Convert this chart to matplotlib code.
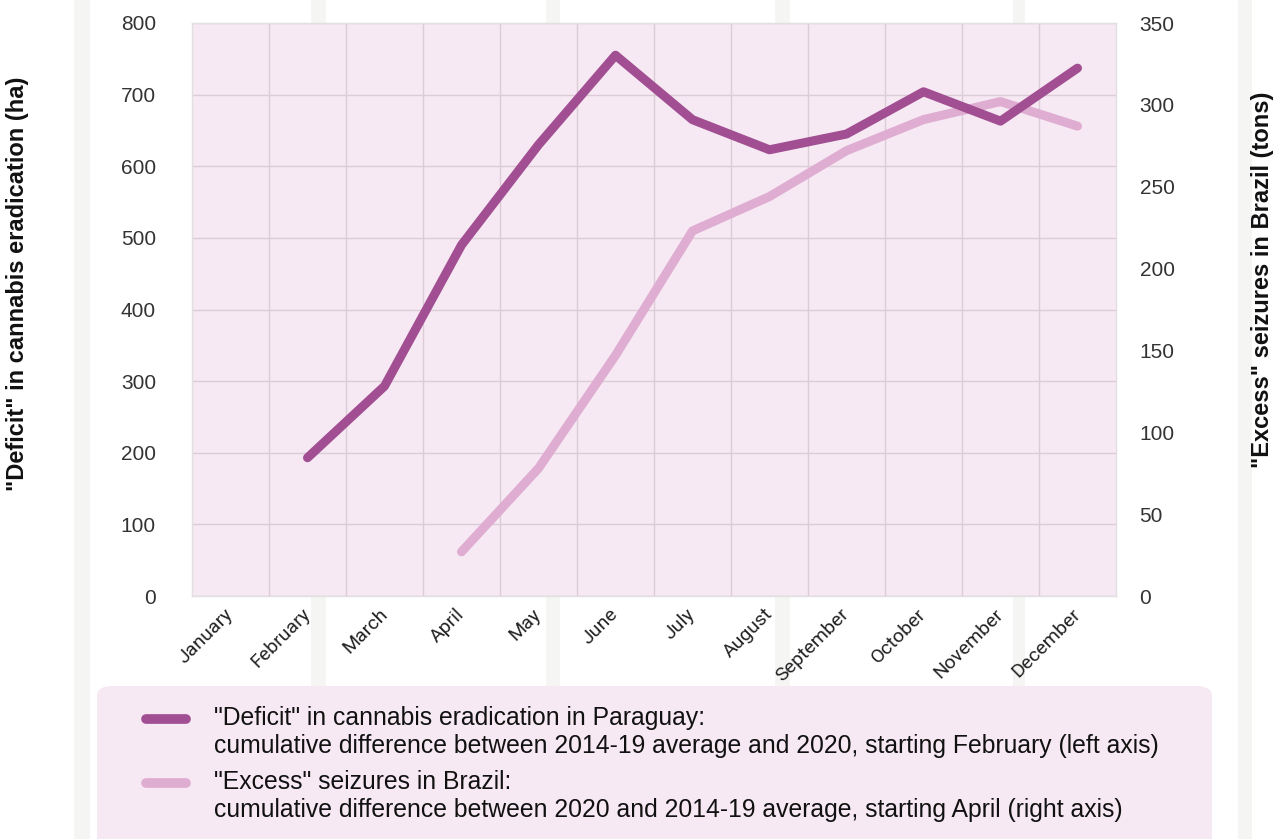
import matplotlib
matplotlib.use("Agg")
import matplotlib.pyplot as plt
from matplotlib.patches import FancyBboxPatch, Rectangle
from matplotlib.lines import Line2D

# Data
months = ["January", "February", "March", "April", "May", "June", "July",
          "August", "September", "October", "November", "December"]
deficit_paraguay = [None, 193, 293, 490, 630, 755, 665, 623, 645, 704, 663, 737]   # ha, left axis
excess_brazil = [None, None, None, 27, 78, 147, 223, 244, 272, 291, 302, 287]      # tons, right axis

left_ticks = [0, 100, 200, 300, 400, 500, 600, 700, 800]
right_ticks = [0, 50, 100, 150, 200, 250, 300, 350]

dark = "#a14f92"
light = "#dfadd2"
panel = "#f7e9f3"
grid_col = "#dcccd6"

plt.rcParams['font.family'] = ['Liberation Sans', 'DejaVu Sans']

fig = plt.figure(figsize=(12.82, 8.39), dpi=100)
fig.patch.set_facecolor("white")

# faint vertical texture stripes in the background
for x0, w in [(74, 16), (311, 15), (546, 14), (775, 15), (1013, 12), (1238, 14)]:
    fig.patches.append(Rectangle((x0 / 1282, 0), w / 1282, 1, transform=fig.transFigure,
                                 facecolor="#f5f6f4", edgecolor="none", zorder=-10))

pos = [192 / 1282, 1 - 596 / 839, (1116 - 192) / 1282, (596 - 23) / 839]

# background panel with grid
bg = fig.add_axes(pos, zorder=-5)
bg.set_facecolor(panel)
bg.set_xlim(-0.5, 11.5)
bg.set_ylim(0, 800)
bg.set_xticks([i + 0.5 for i in range(11)])
bg.set_yticks(left_ticks)
bg.grid(True, color=grid_col, lw=1)
bg.tick_params(length=0, labelbottom=False, labelleft=False)
for s in bg.spines.values():
    s.set_color("#e2dfe0")
    s.set_linewidth(1)

ax = fig.add_axes(pos)
ax2 = ax.twinx()
ax.set_zorder(ax2.get_zorder() + 1)
ax.patch.set_visible(False)
ax2.patch.set_visible(False)

x = list(range(len(months)))
xd = [i for i, v in zip(x, deficit_paraguay) if v is not None]
yd = [v for v in deficit_paraguay if v is not None]
xe = [i for i, v in zip(x, excess_brazil) if v is not None]
ye = [v for v in excess_brazil if v is not None]

ax2.plot(xe, ye, color=light, lw=6.5, solid_capstyle="round", solid_joinstyle="round")
ax.plot(xd, yd, color=dark, lw=6.5, solid_capstyle="round", solid_joinstyle="round")

ax.set_xlim(-0.5, 11.5)
ax.set_ylim(0, 800)
ax2.set_ylim(0, 350)
ax.set_yticks(left_ticks)
ax2.set_yticks(right_ticks)
ax.set_xticks(x)
ax.set_xticklabels(months, rotation=45, ha="right", va="center", rotation_mode="anchor",
                   fontsize=14, family=["Roboto", "DejaVu Sans"], color="#222222")
ax.tick_params(axis="x", length=0, pad=11)
ax.tick_params(axis="y", length=0, pad=26, labelsize=15, labelcolor="#333333")
ax2.tick_params(axis="y", length=0, pad=17, labelsize=15, labelcolor="#333333")
for a in (ax, ax2):
    for s in a.spines.values():
        s.set_visible(False)

fig.text(18 / 1282, 1 - 284 / 839, '"Deficit" in cannabis eradication (ha)', rotation=90,
         ha="center", va="center", fontsize=17, fontweight="bold", color="#111111")
fig.text(1263 / 1282, 1 - 280 / 839, '"Excess" seizures in Brazil (tons)', rotation=90,
         ha="center", va="center", fontsize=17, fontweight="bold", color="#111111")

# legend box
fig.patches.append(FancyBboxPatch((97 / 1282, -0.05), (1212 - 97) / 1282, (0.05 + (839 - 686) / 839),
                                  boxstyle="round,pad=0,rounding_size=0.012",
                                  transform=fig.transFigure, facecolor=panel,
                                  edgecolor="none", zorder=0))
for yy, col in [(719, dark), (783, light)]:
    fig.lines.append(Line2D([146 / 1282, 186 / 1282], [1 - yy / 839] * 2, color=col, lw=7,
                            solid_capstyle="round", transform=fig.transFigure))

legend_font = dict(fontsize=17.8, color="#111111", ha="left", va="center")
fig.text(214 / 1282, 1 - 718 / 839, '"Deficit" in cannabis eradication in Paraguay:', **legend_font)
fig.text(214 / 1282, 1 - 746 / 839,
         "cumulative difference between 2014-19 average and 2020, starting February (left axis)",
         **legend_font)
fig.text(214 / 1282, 1 - 782 / 839, '"Excess" seizures in Brazil:', **legend_font)
fig.text(214 / 1282, 1 - 810 / 839,
         "cumulative difference between 2020 and 2014-19 average, starting April (right axis)",
         **legend_font)

fig.savefig("out.png", dpi=100)
